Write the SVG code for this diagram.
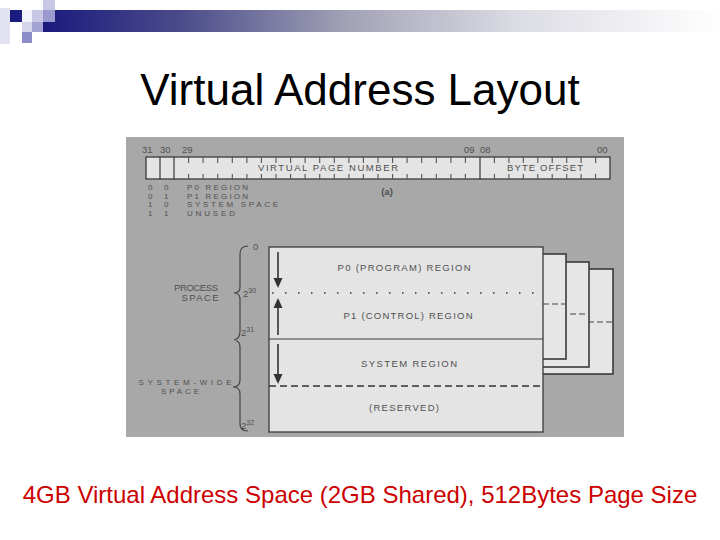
<svg xmlns="http://www.w3.org/2000/svg" width="720" height="540" viewBox="0 0 720 540">
  <defs>
    <linearGradient id="bar" x1="43" y1="0" x2="720" y2="0" gradientUnits="userSpaceOnUse">
      <stop offset="0" stop-color="#1a1a7e"/>
      <stop offset="0.2" stop-color="#4a4a8a"/>
      <stop offset="0.45" stop-color="#a2a2b6"/>
      <stop offset="0.7" stop-color="#dcdce4"/>
      <stop offset="1" stop-color="#ffffff"/>
    </linearGradient>
    <style>
      .t { font-family: "Liberation Sans", Arial, sans-serif; }
      .s { font-family: "Liberation Sans", Arial, sans-serif; font-size: 9.5px; fill: #505050; }
      .lg { font-family: "Liberation Sans", Arial, sans-serif; font-size: 8px; fill: #505050; }
      .box { fill: #e4e4e4; stroke: #3a3a3a; stroke-width: 1.3; }
      .pg { fill: #e6e6e6; stroke: #3a3a3a; stroke-width: 1.6; }
      .ln { stroke: #3a3a3a; stroke-width: 1.2; fill: none; }
      .tk { stroke: #555; stroke-width: 1.1; fill: none; }
      .arr { stroke: #333; stroke-width: 1.6; fill: none; }
      .ah { fill: #333; }
      .br { stroke: #444; stroke-width: 1.2; fill: none; }
    </style>
  </defs>

  <rect width="720" height="540" fill="#ffffff"/>

  <!-- header decoration -->
  <g id="header">
    <rect x="0" y="8" width="10" height="36" fill="#e2e2f2"/>
    <rect x="43" y="10" width="677" height="22" fill="url(#bar)"/>
    <rect x="10" y="10" width="12" height="12" fill="#1c1c80"/>
    <rect x="22" y="10" width="10" height="12" fill="#f2f2fa"/>
    <rect x="32" y="10" width="11" height="12" fill="#c8c8e6"/>
    <rect x="43" y="0" width="12" height="10" fill="#c8c8e4"/>
    <rect x="43" y="10" width="12" height="12" fill="#9a9ad0"/>
    <rect x="22" y="22" width="10" height="10" fill="#d4d4ec"/>
    <rect x="32" y="22" width="11" height="10" fill="#a4a4d4"/>
    <rect x="22" y="32" width="10" height="11" fill="#8c8cc8"/>
  </g>

  <text id="title" class="t" x="360" y="105" font-size="44" text-anchor="middle" fill="#000">Virtual Address Layout</text>

  <!-- scanned figure background -->
  <rect id="figure" x="126" y="137" width="498" height="300" fill="#a8a8a8"/>

  <!-- (a) bit field -->
  <g id="bitfield">
    <rect class="box" x="146" y="157" width="464" height="22"/>
    <path class="ln" d="M160 157V179M174 157V179M480 157V179"/>
    <path class="tk" d="M188.6 157v6M203.1 157v6M217.7 157v6M232.3 157v6M246.9 157v6M261.4 157v6M276 157v6M290.6 157v6M305.1 157v6M319.7 157v6M334.3 157v6M348.9 157v6M363.4 157v6M378 157v6M392.6 157v6M407.1 157v6M421.7 157v6M436.3 157v6M450.9 157v6M465.4 157v6M494.4 157v6M508.9 157v6M523.3 157v6M537.8 157v6M552.2 157v6M566.7 157v6M581.1 157v6M595.6 157v6"/>
    <path class="tk" d="M188.6 179v-5M203.1 179v-5M217.7 179v-5M232.3 179v-5M246.9 179v-5M261.4 179v-5M276 179v-5M290.6 179v-5M305.1 179v-5M319.7 179v-5M334.3 179v-5M348.9 179v-5M363.4 179v-5M378 179v-5M392.6 179v-5M407.1 179v-5M421.7 179v-5M436.3 179v-5M450.9 179v-5M465.4 179v-5M494.4 179v-5M508.9 179v-5M523.3 179v-5M537.8 179v-5M552.2 179v-5M566.7 179v-5M581.1 179v-5M595.6 179v-5"/>
    <text class="s" x="142" y="153">31</text>
    <text class="s" x="160" y="153">30</text>
    <text class="s" x="182" y="153">29</text>
    <text class="s" x="464" y="153">09</text>
    <text class="s" x="480" y="153">08</text>
    <text class="s" x="597" y="153">00</text>
    <text class="s" x="258" y="171" textLength="140" lengthAdjust="spacing">VIRTUAL PAGE NUMBER</text>
    <text class="s" x="507" y="171" textLength="76" lengthAdjust="spacing">BYTE OFFSET</text>
  </g>

  <g id="legend">
    <text class="lg" x="148" y="190">0</text><text class="lg" x="164" y="190">0</text>
    <text class="lg" x="187" y="190" textLength="61" lengthAdjust="spacing">P0 REGION</text>
    <text class="lg" x="148" y="198.5">0</text><text class="lg" x="164" y="198.5">1</text>
    <text class="lg" x="187" y="198.5" textLength="61" lengthAdjust="spacing">P1 REGION</text>
    <text class="lg" x="148" y="207">1</text><text class="lg" x="164" y="207">0</text>
    <text class="lg" x="187" y="207" textLength="91" lengthAdjust="spacing">SYSTEM SPACE</text>
    <text class="lg" x="148" y="215.5">1</text><text class="lg" x="164" y="215.5">1</text>
    <text class="lg" x="187" y="215.5" textLength="48" lengthAdjust="spacing">UNUSED</text>
    <text class="s" x="387" y="195" text-anchor="middle" font-weight="bold">(a)</text>
  </g>

  <!-- stacked pages behind -->
  <g id="page3">
    <rect class="pg" x="300" y="269" width="313" height="105"/>
    <line x1="300" y1="322" x2="612" y2="322" stroke="#444" stroke-width="1" stroke-dasharray="6 3"/>
  </g>
  <g id="page2">
    <rect class="pg" x="300" y="262" width="289" height="105"/>
    <line x1="300" y1="314" x2="588" y2="314" stroke="#444" stroke-width="1" stroke-dasharray="6 3"/>
  </g>
  <g id="page1">
    <rect class="pg" x="300" y="254" width="266" height="105"/>
    <line x1="300" y1="304" x2="565" y2="304" stroke="#444" stroke-width="1" stroke-dasharray="6 3"/>
  </g>

  <!-- main address space -->
  <g id="address-space">
    <rect class="box" x="269" y="247" width="274" height="185"/>
    <line x1="272" y1="293" x2="543" y2="293" stroke="#333" stroke-width="1.6" stroke-dasharray="1.5 11.5"/>
    <line class="ln" x1="269" y1="339" x2="543" y2="339"/>
    <line x1="269" y1="386" x2="543" y2="386" stroke="#333" stroke-width="1.3" stroke-dasharray="7 4"/>
  </g>
  <g id="p0-region"><text class="s" x="404" y="271" text-anchor="middle" textLength="133" lengthAdjust="spacing">P0 (PROGRAM) REGION</text></g>
  <g id="p1-region"><text class="s" x="408" y="319" text-anchor="middle" textLength="129" lengthAdjust="spacing">P1 (CONTROL) REGION</text></g>
  <g id="system-region"><text class="s" x="409" y="367" text-anchor="middle" textLength="96" lengthAdjust="spacing">SYSTEM REGION</text></g>
  <g id="reserved"><text class="s" x="404" y="411" text-anchor="middle" textLength="70" lengthAdjust="spacing">(RESERVED)</text></g>

  <!-- address labels -->
  <g id="addr-labels">
    <text class="s" x="253" y="250">0</text>
    <text class="s" x="243" y="297">2<tspan font-size="7" dy="-4">30</tspan></text>
    <text class="s" x="241" y="336">2<tspan font-size="7" dy="-4">31</tspan></text>
    <text class="s" x="241" y="429">2<tspan font-size="7" dy="-4">32</tspan></text>
  </g>
  <g id="process-space">
    <text class="s" x="196" y="291" text-anchor="middle" textLength="44" lengthAdjust="spacing">PROCESS</text>
    <text class="s" x="200" y="301" text-anchor="middle" textLength="37" lengthAdjust="spacing">SPACE</text>
  </g>
  <g id="system-wide-space">
    <text class="lg" x="185" y="384.5" text-anchor="middle" textLength="93" lengthAdjust="spacing">SYSTEM-WIDE</text>
    <text class="lg" x="180" y="394" text-anchor="middle" textLength="38" lengthAdjust="spacing">SPACE</text>
  </g>

  <!-- connectors: growth arrows and braces -->
  <g id="connectors">
    <line class="arr" x1="278" y1="252" x2="278" y2="279"/>
    <polygon class="ah" points="273.5,278 282.5,278 278,288"/>
    <line class="arr" x1="278" y1="335" x2="278" y2="307"/>
    <polygon class="ah" points="273.5,308 282.5,308 278,298"/>
    <line class="arr" x1="278" y1="344" x2="278" y2="375"/>
    <polygon class="ah" points="273.5,374 282.5,374 278,384"/>
    <path class="br" d="M248 246 Q240 246 240 254 L240 287 Q240 293 234 293 Q240 293 240 299 L240 331 Q240 339 234 340"/>
    <path class="br" d="M236 341 Q240 341 240 348 L240 380 Q240 387 233 387 Q240 387 240 394 L240 424 Q240 431 248 431"/>
  </g>

  <text id="caption" class="t" x="360" y="503" font-size="24" text-anchor="middle" fill="#cc0000">4GB Virtual Address Space (2GB Shared), 512Bytes Page Size</text>
</svg>
